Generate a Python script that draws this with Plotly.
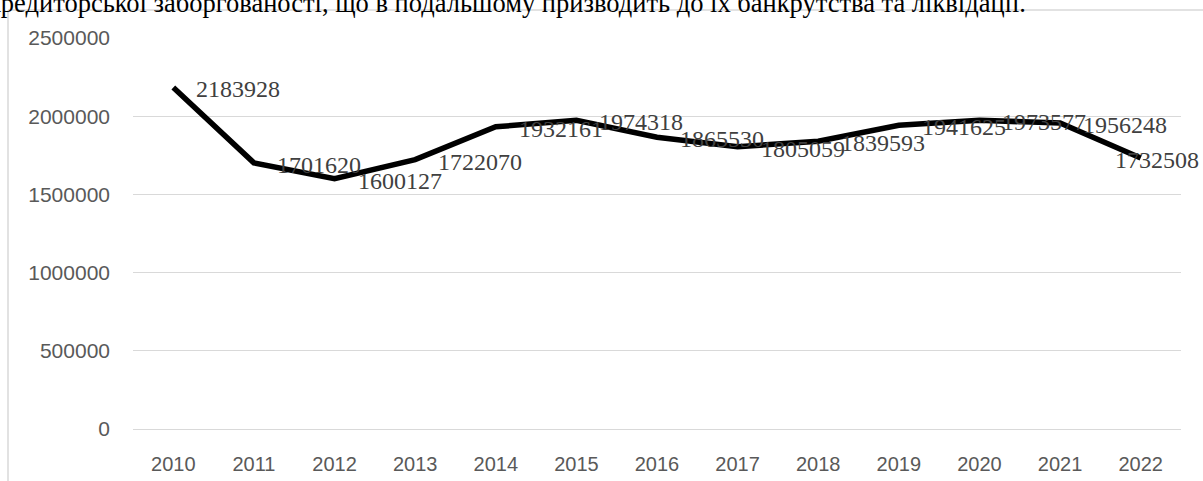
import plotly.graph_objects as go

years = [2010, 2011, 2012, 2013, 2014, 2015, 2016, 2017, 2018, 2019, 2020, 2021, 2022]
values = [2183928, 1701620, 1600127, 1722070, 1932161, 1974318, 1865530, 1805059, 1839593, 1941625, 1973577, 1956248, 1732508]
y_ticks = [0, 500000, 1000000, 1500000, 2000000, 2500000]
top_text = "кредиторської заборгованості, що в подальшому призводить до їх банкрутства та ліквідації."

W, H = 1203, 481
L, R, T, B = 133, 22, 38, 52
pw, ph = W - L - R, H - T - B

fig = go.Figure()
fig.add_trace(go.Scatter(
    x=years, y=values, mode="lines",
    line=dict(color="#000000", width=5.5),
    hoverinfo="x+y", showlegend=False,
))

for i, (yr, v) in enumerate(zip(years, values)):
    last = i == len(years) - 1
    fig.add_annotation(
        x=yr, y=v, text=str(v), showarrow=False,
        xanchor="right" if last else "left", yanchor="middle",
        xshift=60 if last else 21, yshift=-2,
        font=dict(family="Liberation Serif, Times New Roman, serif", size=24, color="#404040"),
    )

# cut-off line of the surrounding document text
fig.add_annotation(
    xref="paper", yref="paper",
    x=(-14 - L) / pw, y=(H - B - 20) / ph,
    text=top_text, showarrow=False, xanchor="left", yanchor="bottom",
    font=dict(family="Liberation Serif, Times New Roman, serif", size=26.5, color="#000000"),
)

# chart frame (left and top edges visible)
fx0 = (8 - L) / pw
fy1 = (H - B - 10) / ph
fig.add_shape(type="line", xref="paper", yref="paper", x0=fx0, x1=fx0, y0=-1, y1=fy1,
              line=dict(color="#d9d9d9", width=1.5))
fig.add_shape(type="line", xref="paper", yref="paper", x0=fx0, x1=2, y0=fy1, y1=fy1,
              line=dict(color="#d9d9d9", width=1.5))

fig.update_layout(
    width=W, height=H,
    margin=dict(l=L, r=R, t=T, b=B, autoexpand=False),
    paper_bgcolor="white", plot_bgcolor="white",
    font=dict(family="Liberation Sans, Arial, sans-serif", color="#595959"),
    xaxis=dict(
        range=[years[0] - 0.5, years[-1] + 0.5], tickvals=years, ticktext=[str(y) for y in years],
        showgrid=False, showline=False, zeroline=False, automargin=False,
        ticks="", tickfont=dict(size=20, color="#595959"), ticklabelstandoff=21,
    ),
    yaxis=dict(
        range=[0, 2500000], tickvals=y_ticks, ticktext=[str(t) for t in y_ticks],
        showgrid=True, gridcolor="#d9d9d9", gridwidth=1.3,
        zeroline=True, zerolinecolor="#d9d9d9", zerolinewidth=1.3, automargin=False,
        showline=False, ticks="", tickfont=dict(size=21, color="#595959"),
        ticklabelstandoff=22,
    ),
)

fig.write_html(
    "out.html",
    config={"displayModeBar": False},
    post_script="document.body.style.margin='0';document.body.style.overflow='hidden';",
)
